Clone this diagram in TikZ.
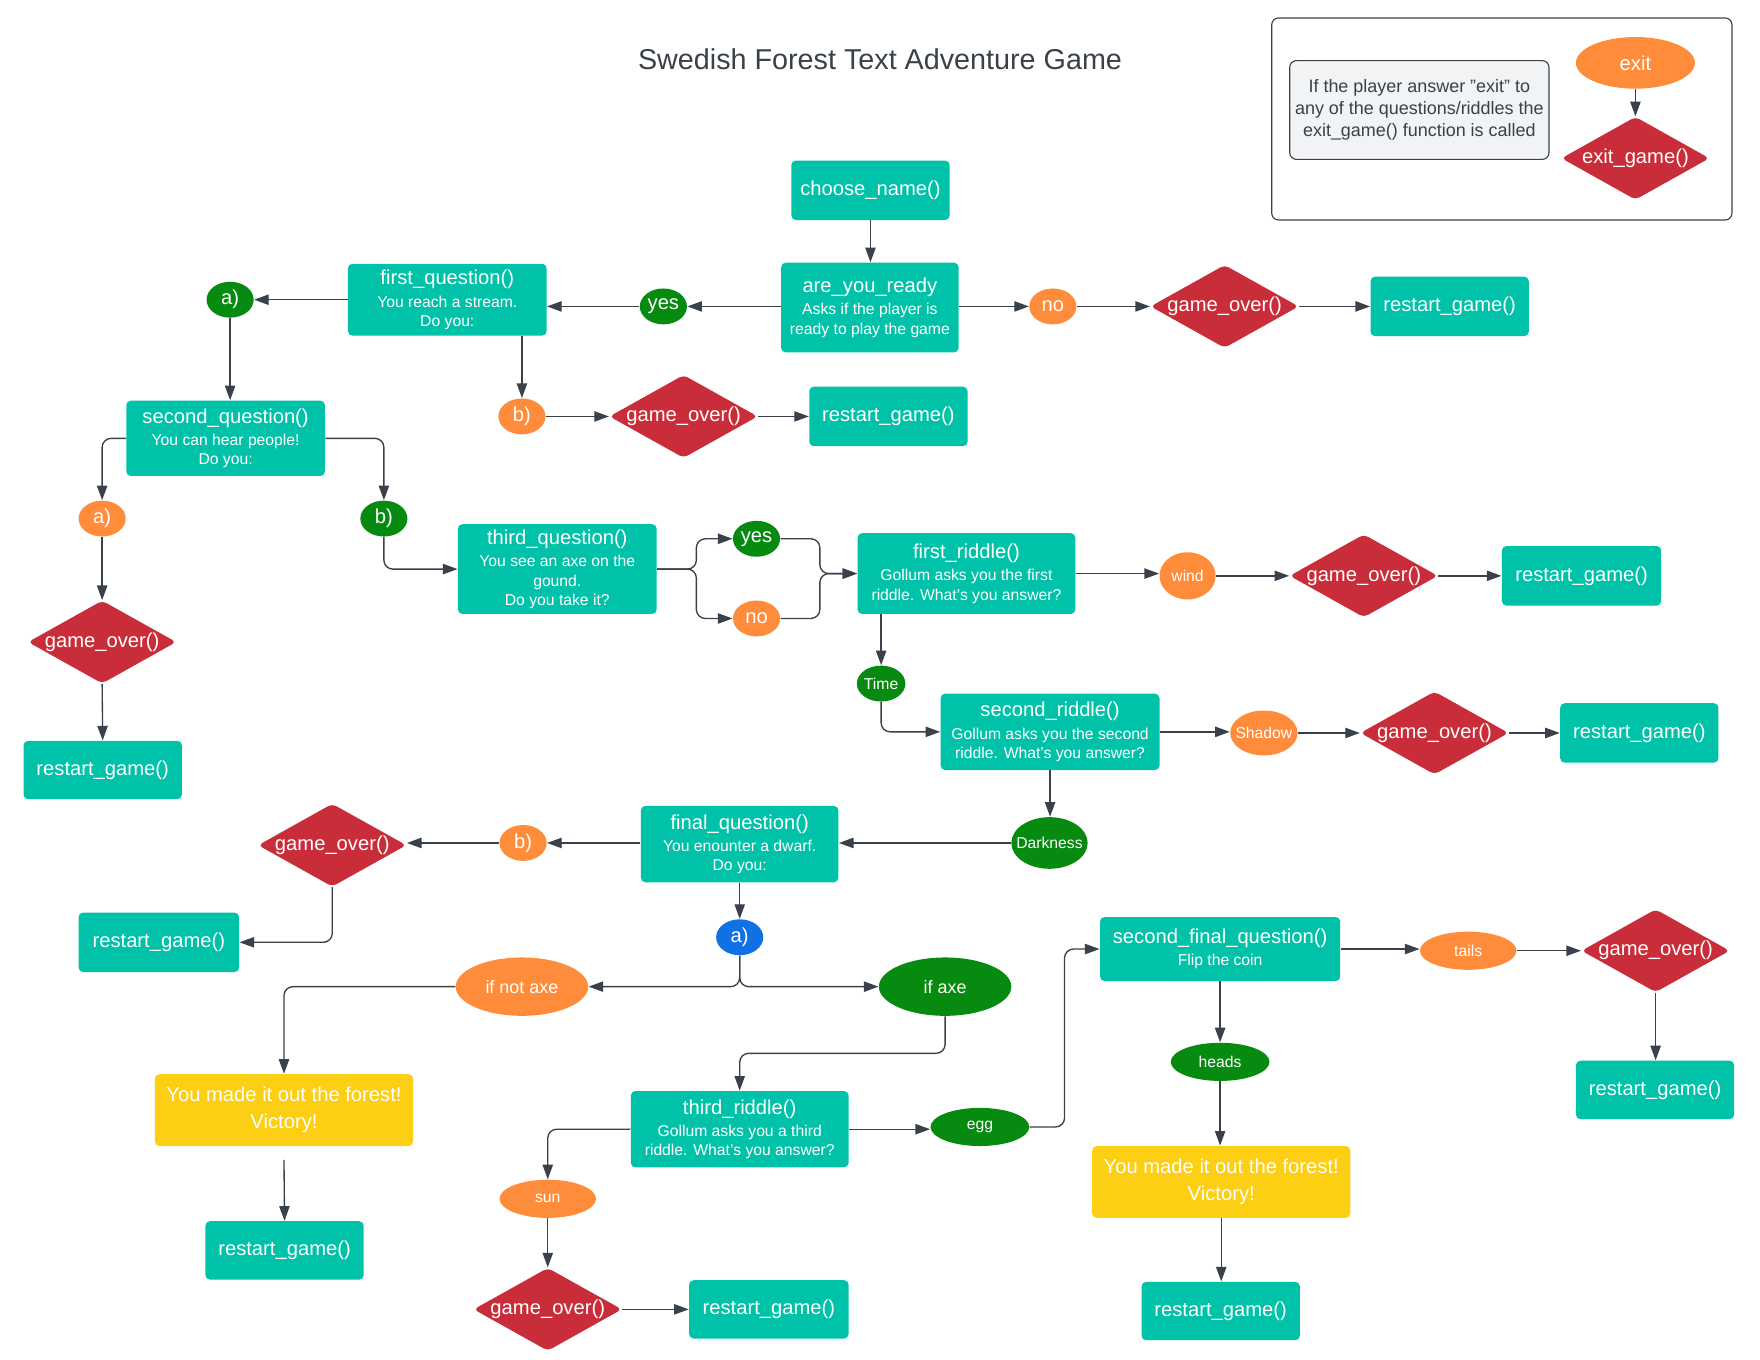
\documentclass[tikz,border=0pt]{standalone}
\usepackage{fontspec}
\setmainfont{Liberation Sans}
\usetikzlibrary{shapes.geometric,arrows.meta}
\definecolor{tealc}{HTML}{00C2A8}
\definecolor{greenc}{HTML}{078A10}
\definecolor{orangec}{HTML}{FF8C3A}
\definecolor{redc}{HTML}{C92D39}
\definecolor{yellowc}{HTML}{FCCE14}
\definecolor{bluec}{HTML}{1071E5}
\definecolor{linec}{HTML}{3A414A}
\definecolor{grayc}{HTML}{F2F3F5}
\newcommand{\tA}{\fontsize{9}{11}\selectfont}
\newcommand{\tB}{\fontsize{7}{8.5}\selectfont}
\begin{document}
\begin{tikzpicture}[x=0.5pt,y=-0.5pt,
  box/.style={rectangle, rounded corners=2pt, fill=tealc, text=white, align=center, inner sep=0pt, font=\tB},
  rbox/.style={box, font=\tA, minimum width=70.5pt, minimum height=26.5pt},
  vbox/.style={box, fill=yellowc, font=\tA, minimum width=115pt, minimum height=32pt},
  ell/.style={ellipse, inner sep=0pt, text=white, font=\tA},
  gell/.style={ell, fill=greenc},
  oell/.style={ell, fill=orangec},
  dia/.style={diamond, aspect=1.8, inner sep=0pt, fill=redc, text=white, font=\tA, rounded corners=2pt, minimum width=66pt, minimum height=37pt},
  arr/.style={draw=linec, line width=0.6pt, rounded corners=4pt, -{Triangle[length=6.5pt,width=4.6pt]}},
  ln/.style={draw=linec, line width=0.6pt, rounded corners=4pt}
]
\useasboundingbox (0,0) rectangle (1568,1211.6);

% title
\node[font=\fontsize{12.8}{15}\selectfont, text=linec] (title) at (784,53) {Swedish Forest Text Adventure Game};

% legend
\node[draw=linec, line width=0.5pt, rounded corners=3pt, minimum width=205pt, minimum height=90pt, inner sep=0pt] (legend) at (1338,106) {};
\node[fill=grayc, draw=linec, line width=0.5pt, rounded corners=3pt, minimum width=115.5pt, minimum height=44pt, inner sep=0pt, text=linec, align=center, font=\fontsize{8}{9.75}\selectfont] (legtext) at (1264.5,98) {If the player answer "exit" to\\any of the questions/riddles the\\exit\_game() function is called};
\node[oell, minimum width=53pt, minimum height=23pt] (exit) at (1457,56) {exit};
\node[dia] (exitgame) at (1457,141) {exit\_game()};
\draw[arr] (exit.south) -- (exitgame.north);

% top row
\node[rbox] (choose) at (775.5,169.5) {choose\_name()};
\node[box, minimum width=79pt, minimum height=40pt] (are) at (775,274) {{\tA are\_you\_ready}\\[1.5pt]Asks if the player is\\ready to play the game};
\node[gell, minimum width=21pt, minimum height=16pt] (yes1) at (591,273) {yes};
\node[oell, minimum width=21pt, minimum height=16pt] (no1) at (938,273) {no};
\node[dia] (go1) at (1091,273) {game\_over()};
\node[rbox] (rs1) at (1291.5,273) {restart\_game()};

\node[box, minimum width=88.5pt, minimum height=32pt] (fq) at (398.5,267) {{\tA first\_question()}\\[1.5pt]You reach a stream.\\Do you:};
\node[gell, minimum width=21pt, minimum height=16pt] (a1) at (205,267) {a)};
\node[oell, minimum width=21pt, minimum height=16pt] (b1) at (465,371) {b)};
\node[dia] (go2) at (609,371) {game\_over()};
\node[rbox] (rs2) at (791.5,371) {restart\_game()};

\node[box, minimum width=88.5pt, minimum height=33.5pt] (sq) at (201,390.5) {{\tA second\_question()}\\[1.5pt]You can hear people!\\Do you:};
\node[oell, minimum width=21pt, minimum height=16pt] (a2) at (91,462) {a)};
\node[gell, minimum width=21pt, minimum height=16pt] (b2) at (342,462) {b)};
\node[dia] (go3) at (91,572) {game\_over()};
\node[rbox, minimum height=26pt] (rs3) at (91.5,686) {restart\_game()};

\node[box, minimum width=88.5pt, minimum height=40pt] (tq) at (496.5,507) {{\tA third\_question()}\\[1.5pt]You see an axe on the\\gound.\\Do you take it?};
\node[gell, minimum width=21pt, minimum height=16pt] (yes2) at (674,480) {yes};
\node[oell, minimum width=21pt, minimum height=16pt] (no2) at (674,551) {no};

\node[box, minimum width=97pt, minimum height=36pt] (fr) at (861,511) {{\tA first\_riddle()}\\[1.5pt]Gollum asks you the first\\riddle. What's you answer?};
\node[oell, font=\tB, minimum width=25pt, minimum height=21pt] (wind) at (1058,513) {wind};
\node[dia] (go4) at (1215,513) {game\_over()};
\node[rbox, minimum width=71pt] (rs4) at (1409,513) {restart\_game()};

\node[gell, font=\tB, minimum width=21pt, minimum height=16pt] (time) at (785,609) {Time};
\node[box, minimum width=97.5pt, minimum height=34pt] (sr) at (935.5,652) {{\tA second\_riddle()}\\[1.5pt]Gollum asks you the second\\riddle. What's you answer?};
\node[oell, font=\tB, inner xsep=-6pt, minimum width=30pt, minimum height=20pt] (shadow) at (1126,653) {Shadow};
\node[dia] (go5) at (1278,653) {game\_over()};
\node[rbox] (rs5) at (1460.5,653) {restart\_game()};

\node[gell, font=\tB, inner xsep=-6pt, minimum width=34pt, minimum height=23pt] (dark) at (935,751) {Darkness};
\node[box, minimum width=88pt, minimum height=34pt] (fin) at (659,752) {{\tA final\_question()}\\[1.5pt]You enounter a dwarf.\\Do you:};
\node[oell, minimum width=21pt, minimum height=16pt] (b3) at (466,751) {b)};
\node[dia] (go6) at (296,753) {game\_over()};
\node[rbox, minimum width=71.5pt] (rs6) at (141.5,839.5) {restart\_game()};

\node[ell, fill=bluec, minimum width=21pt, minimum height=16pt] (a3) at (659,835) {a)};
\node[oell, font=\fontsize{8}{9.5}\selectfont, minimum width=59pt, minimum height=26pt] (notaxe) at (465,879) {if not axe};
\node[gell, font=\fontsize{8}{9.5}\selectfont, minimum width=59pt, minimum height=26pt] (axe) at (842,879) {if axe};

\node[vbox] (vic1) at (253,989) {You made it out the forest!\\[1pt]Victory!};
\node[rbox, minimum height=26pt] (rs7) at (253.5,1114) {restart\_game()};

\node[box, minimum width=97pt, minimum height=34pt] (trd) at (659,1006) {{\tA third\_riddle()}\\[1.5pt]Gollum asks you a third\\riddle. What's you answer?};
\node[gell, font=\tB, minimum width=44pt, minimum height=17pt] (egg) at (873,1004) {egg};
\node[oell, font=\tB, minimum width=43pt, minimum height=17pt] (sun) at (488,1068) {sun};
\node[dia] (go7) at (488,1166.5) {game\_over()};
\node[rbox, minimum width=71pt, minimum height=26pt] (rs8) at (685,1166.5) {restart\_game()};

\node[box, minimum width=107pt, minimum height=28.5pt] (sfq) at (1087,845.5) {{\tA second\_final\_question()}\\[1.5pt]Flip the coin};
\node[oell, font=\tB, minimum width=43pt, minimum height=17pt] (tails) at (1308,847) {tails};
\node[dia] (go8) at (1475,847) {game\_over()};
\node[rbox, minimum height=26pt] (rs9) at (1474.5,971) {restart\_game()};
\node[gell, font=\tB, minimum width=44pt, minimum height=17pt] (heads) at (1087,946) {heads};
\node[vbox] (vic2) at (1088,1053) {You made it out the forest!\\[1pt]Victory!};
\node[rbox, minimum height=26pt] (rs10) at (1087.5,1168) {restart\_game()};

% connectors
\draw[arr] (choose.south) -- (choose.south |- are.north);
\draw[arr] (are.west |- yes1.east) -- (yes1.east);
\draw[arr] (yes1.west) -- (fq.east |- yes1.west);
\draw[arr] (are.east |- no1.west) -- (no1.west);
\draw[arr] (no1.east) -- (go1.west);
\draw[arr] (go1.east) -- (rs1.west);

\draw[arr] (fq.west) -- (a1.east);
\draw[arr] (a1.south) -- (a1.south |- sq.north);
\draw[arr] (fq.south -| b1.north) -- (b1.north);
\draw[arr] (b1.east) -- (go2.west);
\draw[arr] (go2.east) -- (rs2.west);

\draw[arr] (sq.west) -| (a2.north);
\draw[arr] (sq.east) -| (b2.north);
\draw[arr] (a2.south) -- (go3.north);
\draw[arr] (go3.south) -- (rs3.north);
\draw[arr] (b2.south) |- (tq.west);

\draw[arr] (tq.east) -- ++(35,0) |- (yes2.west);
\draw[arr] (tq.east) -- ++(35,0) |- (no2.west);
\draw[arr] (yes2.east) -- ++(35,0) |- (fr.west);
\draw[arr] (no2.east) -- ++(35,0) |- (fr.west);

\draw[arr] (fr.east) -- (fr.east -| wind.west);
\draw[arr] (wind.east) -- (go4.west);
\draw[arr] (go4.east) -- (rs4.west);
\draw[arr] (fr.south -| time.north) -- (time.north);
\draw[arr] (time.south) |- (sr.west);
\draw[arr] (sr.east) -- (sr.east -| shadow.west);
\draw[arr] (shadow.east) -- (go5.west);
\draw[arr] (go5.east) -- (rs5.west);
\draw[arr] (sr.south) -- (sr.south |- dark.north);

\draw[arr] (dark.west) -- (fin.east |- dark.west);
\draw[arr] (fin.west |- b3.east) -- (b3.east);
\draw[arr] (b3.west) -- (go6.east |- b3.west);
\draw[arr] (go6.south) |- (rs6.east);
\draw[arr] (fin.south) -- (a3.north);
\draw[arr] (a3.south) |- (notaxe.east);
\draw[arr] (a3.south) |- (axe.west);
\draw[arr] (notaxe.west) -| (vic1.north);
\draw[arr] ([yshift=-6pt]vic1.south) -- (rs7.north);
\draw[arr] (axe.south) -- ++(0,33) -| (trd.north);
\draw[arr] (trd.east) -- (trd.east -| egg.west);
\draw[arr] (egg.east) -- ++(31,0) |- (sfq.west);
\draw[arr] (trd.west) -| (sun.north);
\draw[arr] (sun.south) -- (go7.north);
\draw[arr] (go7.east) -- (rs8.west);

\draw[arr] (sfq.east) -- (sfq.east -| tails.west);
\draw[arr] (tails.east) -- (go8.west);
\draw[arr] (go8.south) -- (go8.south |- rs9.north);
\draw[arr] (sfq.south) -- (heads.north);
\draw[arr] (heads.south) -- (heads.south |- vic2.north);
\draw[arr] (vic2.south) -- (vic2.south |- rs10.north);
\end{tikzpicture}
\end{document}
